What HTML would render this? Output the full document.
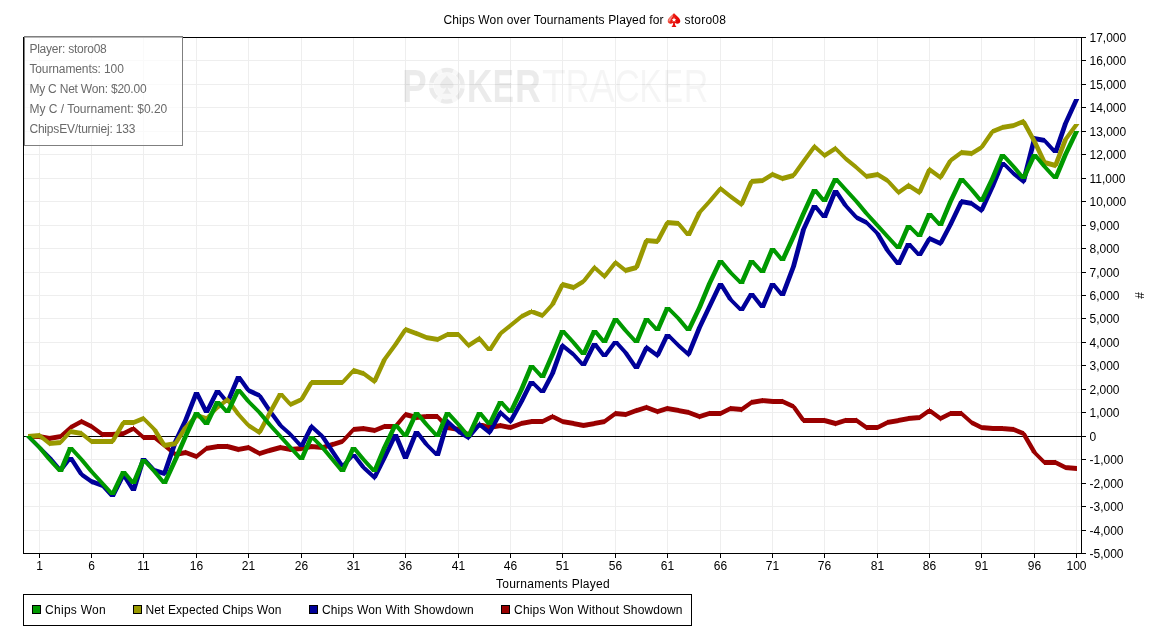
<!DOCTYPE html>
<html><head><meta charset="utf-8"><title>Chips Won over Tournaments Played</title>
<style>
html,body{margin:0;padding:0;background:#fff;}
body{width:1158px;height:636px;overflow:hidden;position:relative;font-family:"Liberation Sans",sans-serif;}
svg{position:absolute;left:0;top:0;display:block;}
svg text{font-family:"Liberation Sans",sans-serif;font-size:12px;fill:#000;}
.info{position:absolute;left:24px;top:36px;width:157px;height:108px;border:1px solid #7f7f7f;background:rgba(255,255,255,0.72);box-sizing:content-box;}
.info div{position:absolute;left:4.4px;white-space:nowrap;font-size:12px;line-height:14px;color:#6a6a6a;letter-spacing:0px;}
</style></head><body>
<svg width="1158" height="636" viewBox="0 0 1158 636">
<rect x="0" y="0" width="1158" height="636" fill="#ffffff"/>

<g shape-rendering="crispEdges" stroke="#eeeeee" stroke-width="1">
<line x1="39.5" y1="37.5" x2="39.5" y2="553.5"/>
<line x1="91.5" y1="37.5" x2="91.5" y2="553.5"/>
<line x1="143.5" y1="37.5" x2="143.5" y2="553.5"/>
<line x1="196.5" y1="37.5" x2="196.5" y2="553.5"/>
<line x1="248.5" y1="37.5" x2="248.5" y2="553.5"/>
<line x1="301.5" y1="37.5" x2="301.5" y2="553.5"/>
<line x1="353.5" y1="37.5" x2="353.5" y2="553.5"/>
<line x1="405.5" y1="37.5" x2="405.5" y2="553.5"/>
<line x1="458.5" y1="37.5" x2="458.5" y2="553.5"/>
<line x1="510.5" y1="37.5" x2="510.5" y2="553.5"/>
<line x1="562.5" y1="37.5" x2="562.5" y2="553.5"/>
<line x1="615.5" y1="37.5" x2="615.5" y2="553.5"/>
<line x1="667.5" y1="37.5" x2="667.5" y2="553.5"/>
<line x1="720.5" y1="37.5" x2="720.5" y2="553.5"/>
<line x1="772.5" y1="37.5" x2="772.5" y2="553.5"/>
<line x1="824.5" y1="37.5" x2="824.5" y2="553.5"/>
<line x1="877.5" y1="37.5" x2="877.5" y2="553.5"/>
<line x1="929.5" y1="37.5" x2="929.5" y2="553.5"/>
<line x1="981.5" y1="37.5" x2="981.5" y2="553.5"/>
<line x1="1034.5" y1="37.5" x2="1034.5" y2="553.5"/>
<line x1="1076.5" y1="37.5" x2="1076.5" y2="553.5"/>
<line x1="23.5" y1="553.5" x2="1081.5" y2="553.5"/>
<line x1="23.5" y1="530.5" x2="1081.5" y2="530.5"/>
<line x1="23.5" y1="506.5" x2="1081.5" y2="506.5"/>
<line x1="23.5" y1="483.5" x2="1081.5" y2="483.5"/>
<line x1="23.5" y1="459.5" x2="1081.5" y2="459.5"/>
<line x1="23.5" y1="412.5" x2="1081.5" y2="412.5"/>
<line x1="23.5" y1="389.5" x2="1081.5" y2="389.5"/>
<line x1="23.5" y1="365.5" x2="1081.5" y2="365.5"/>
<line x1="23.5" y1="342.5" x2="1081.5" y2="342.5"/>
<line x1="23.5" y1="318.5" x2="1081.5" y2="318.5"/>
<line x1="23.5" y1="295.5" x2="1081.5" y2="295.5"/>
<line x1="23.5" y1="272.5" x2="1081.5" y2="272.5"/>
<line x1="23.5" y1="248.5" x2="1081.5" y2="248.5"/>
<line x1="23.5" y1="225.5" x2="1081.5" y2="225.5"/>
<line x1="23.5" y1="201.5" x2="1081.5" y2="201.5"/>
<line x1="23.5" y1="178.5" x2="1081.5" y2="178.5"/>
<line x1="23.5" y1="154.5" x2="1081.5" y2="154.5"/>
<line x1="23.5" y1="131.5" x2="1081.5" y2="131.5"/>
<line x1="23.5" y1="107.5" x2="1081.5" y2="107.5"/>
<line x1="23.5" y1="84.5" x2="1081.5" y2="84.5"/>
<line x1="23.5" y1="60.5" x2="1081.5" y2="60.5"/>
<line x1="23.5" y1="37.5" x2="1081.5" y2="37.5"/>
</g>
<g id="wm">
<text transform="translate(401.88,102.2) scale(0.8016,1)" style="font-size:46.4px;font-weight:bold;fill:rgba(0,0,0,0.08);">P</text>
<text transform="translate(466.68,102.2) scale(0.7685,1)" style="font-size:46.4px;font-weight:bold;fill:rgba(0,0,0,0.08);">K</text>
<text transform="translate(492.73,102.2) scale(0.6866,1)" style="font-size:46.4px;font-weight:bold;fill:rgba(0,0,0,0.08);">E</text>
<text transform="translate(514.98,102.2) scale(0.7704,1)" style="font-size:46.4px;font-weight:bold;fill:rgba(0,0,0,0.08);">R</text>
<text transform="translate(542.03,102.2) scale(0.8392,1)" style="font-size:46.4px;font-weight:normal;fill:rgba(0,0,0,0.04);">T</text>
<text transform="translate(565.66,102.2) scale(0.7099,1)" style="font-size:46.4px;font-weight:normal;fill:rgba(0,0,0,0.04);">R</text>
<text transform="translate(589.31,102.2) scale(0.8261,1)" style="font-size:46.4px;font-weight:normal;fill:rgba(0,0,0,0.04);">A</text>
<text transform="translate(614.76,102.2) scale(0.7492,1)" style="font-size:46.4px;font-weight:normal;fill:rgba(0,0,0,0.04);">C</text>
<text transform="translate(639.30,102.2) scale(0.7271,1)" style="font-size:46.4px;font-weight:normal;fill:rgba(0,0,0,0.04);">K</text>
<text transform="translate(662.91,102.2) scale(0.6446,1)" style="font-size:46.4px;font-weight:normal;fill:rgba(0,0,0,0.04);">E</text>
<text transform="translate(683.87,102.2) scale(0.7353,1)" style="font-size:46.4px;font-weight:normal;fill:rgba(0,0,0,0.04);">R</text>
<circle cx="446.9" cy="85.8" r="15.75" fill="none" stroke="rgba(0,0,0,0.028)" stroke-width="4.5" stroke-dasharray="5.193 11.3" stroke-dashoffset="2.6"/>
<circle cx="446.9" cy="85.8" r="15.75" fill="none" stroke="rgba(0,0,0,0.08)" stroke-width="4.5" stroke-dasharray="11.3 5.193" stroke-dashoffset="-2.6"/>
<circle cx="446.9" cy="85.8" r="13.2" fill="rgba(0,0,0,0.03)"/>
<path transform="translate(446.9,75.3)" d="M0 0 C1.6 3.4 6.7 6 6.7 10 C6.7 13.2 3 14.2 0.9 12.2 C1.2 14.6 2.2 16.6 4.6 18.5 L-4.6 18.5 C-2.2 16.6 -1.2 14.6 -0.9 12.2 C-3 14.2 -6.7 13.2 -6.7 10 C-6.7 6 -1.6 3.4 0 0 Z" fill="rgba(0,0,0,0.052)"/>
</g>
<line x1="23.5" y1="436.5" x2="1081.5" y2="436.5" stroke="#000" stroke-width="1" shape-rendering="crispEdges"/>
<path d="M28.00 434.00L40.00 434.00L40.00 439.00L28.00 439.00ZM39.00 433.89L50.00 436.09L50.00 441.11L39.00 438.91ZM49.00 436.08L61.00 433.90L61.00 438.92L49.00 441.10ZM60.00 434.28L71.00 424.38L71.00 429.72L60.00 439.62ZM70.00 425.20L82.00 418.66L82.00 423.80L70.00 430.34ZM81.00 418.69L92.00 424.19L92.00 429.31L81.00 423.81ZM91.00 423.52L103.00 432.25L103.00 437.48L91.00 428.75ZM102.00 432.00L113.00 432.00L113.00 437.00L102.00 437.00ZM112.00 432.04L124.00 430.95L124.00 435.96L112.00 437.05ZM123.00 431.19L134.00 425.69L134.00 430.81L123.00 436.31ZM133.00 425.38L144.00 435.28L144.00 440.62L133.00 430.72ZM143.00 435.00L155.00 435.00L155.00 440.00L143.00 440.00ZM154.00 434.46L165.00 443.26L165.00 448.54L154.00 439.74ZM164.00 442.44L176.00 452.26L176.00 457.56L164.00 447.74ZM175.00 452.09L186.00 449.89L186.00 454.91L175.00 457.11ZM185.00 449.79L197.00 454.15L197.00 459.21L185.00 454.85ZM196.00 454.26L207.00 445.46L207.00 450.74L196.00 459.54ZM206.00 446.08L218.00 443.90L218.00 448.92L206.00 451.10ZM217.00 444.00L228.00 444.00L228.00 449.00L217.00 449.00ZM227.00 443.85L239.00 447.12L239.00 452.15L227.00 448.88ZM238.00 447.09L249.00 444.89L249.00 449.91L238.00 452.11ZM248.00 444.66L260.00 451.20L260.00 456.34L248.00 449.80ZM259.00 451.13L270.00 447.83L270.00 452.87L259.00 456.17ZM269.00 448.12L281.00 444.85L281.00 449.88L269.00 453.15ZM280.00 444.89L291.00 447.09L291.00 452.11L280.00 449.91ZM290.00 447.04L302.00 445.95L302.00 450.96L290.00 452.05ZM301.00 446.09L312.00 443.89L312.00 448.91L301.00 451.11ZM311.00 443.95L323.00 445.04L323.00 450.05L311.00 448.96ZM322.00 445.13L333.00 441.83L333.00 446.87L322.00 450.17ZM332.00 442.13L343.00 438.83L343.00 443.87L332.00 447.17ZM351.28 429.00L356.64 429.00L344.72 442.00L339.36 442.00ZM353.00 427.05L364.00 425.95L364.00 430.95L353.00 432.05ZM363.00 425.90L375.00 428.08L375.00 433.10L363.00 430.92ZM374.00 428.16L385.00 423.76L385.00 428.84L374.00 433.24ZM384.00 424.00L396.00 424.00L396.00 429.00L384.00 429.00ZM403.27 414.00L408.57 414.00L397.73 427.00L392.43 427.00ZM405.00 411.85L417.00 415.12L417.00 420.15L405.00 416.88ZM416.00 415.05L427.00 413.95L427.00 418.95L416.00 420.05ZM426.00 414.00L438.00 414.00L438.00 419.00L426.00 419.00ZM434.37 416.00L439.72 416.00L450.63 428.00L445.28 428.00ZM447.00 424.90L459.00 427.08L459.00 432.10L447.00 429.92ZM458.00 426.69L469.00 432.19L469.00 437.31L458.00 431.81ZM468.00 432.28L480.00 421.37L480.00 426.72L468.00 437.63ZM479.00 421.83L490.00 425.13L490.00 430.17L479.00 426.87ZM489.00 425.08L501.00 422.90L501.00 427.92L489.00 430.10ZM500.00 422.89L511.00 425.09L511.00 430.11L500.00 427.91ZM510.00 425.15L522.00 420.79L522.00 425.85L510.00 430.21ZM521.00 421.09L532.00 418.89L532.00 423.91L521.00 426.11ZM531.00 419.00L543.00 419.00L543.00 424.00L531.00 424.00ZM542.00 419.19L553.00 413.69L553.00 418.81L542.00 424.31ZM552.00 413.69L563.00 419.19L563.00 424.31L552.00 418.81ZM562.00 418.90L574.00 421.08L574.00 426.10L562.00 423.92ZM573.00 420.89L584.00 423.09L584.00 428.11L573.00 425.91ZM583.00 423.08L595.00 420.90L595.00 425.92L583.00 428.10ZM594.00 421.09L605.00 418.89L605.00 423.91L594.00 426.11ZM604.00 419.25L616.00 410.52L616.00 415.75L604.00 424.48ZM615.00 410.95L626.00 412.05L626.00 417.05L615.00 415.95ZM625.00 412.15L637.00 407.79L637.00 412.85L625.00 417.21ZM636.00 408.13L647.00 404.83L647.00 409.87L636.00 413.17ZM646.00 404.79L658.00 409.15L658.00 414.21L646.00 409.85ZM657.00 409.13L668.00 405.83L668.00 410.87L657.00 414.17ZM667.00 405.90L679.00 408.08L679.00 413.10L667.00 410.92ZM678.00 407.89L689.00 410.09L689.00 415.11L678.00 412.91ZM688.00 409.79L700.00 414.15L700.00 419.21L688.00 414.85ZM699.00 414.13L710.00 410.83L710.00 415.87L699.00 419.17ZM709.00 411.00L721.00 411.00L721.00 416.00L709.00 416.00ZM720.00 411.19L731.00 405.69L731.00 410.81L720.00 416.31ZM730.00 405.95L742.00 407.04L742.00 412.05L730.00 410.96ZM741.00 407.24L752.00 399.54L752.00 404.76L741.00 412.46ZM751.00 400.08L763.00 397.90L763.00 402.92L751.00 405.10ZM762.00 397.95L773.00 399.05L773.00 404.05L762.00 402.95ZM772.00 399.00L783.00 399.00L783.00 404.00L772.00 404.00ZM782.00 398.72L794.00 404.18L794.00 409.28L782.00 403.82ZM790.53 406.00L795.76 406.00L806.47 421.00L801.24 421.00ZM803.00 418.00L815.00 418.00L815.00 423.00L803.00 423.00ZM814.00 418.00L825.00 418.00L825.00 423.00L814.00 423.00ZM824.00 417.85L836.00 421.12L836.00 426.15L824.00 422.88ZM835.00 421.13L846.00 417.83L846.00 422.87L835.00 426.17ZM845.00 418.00L857.00 418.00L857.00 423.00L845.00 423.00ZM856.00 417.54L867.00 425.24L867.00 430.46L856.00 422.76ZM866.00 425.00L878.00 425.00L878.00 430.00L866.00 430.00ZM877.00 425.19L888.00 419.69L888.00 424.81L877.00 430.31ZM887.00 420.08L899.00 417.90L899.00 422.92L887.00 425.10ZM898.00 418.09L909.00 415.89L909.00 420.91L898.00 423.11ZM908.00 416.04L920.00 414.95L920.00 419.96L908.00 421.05ZM919.00 415.24L930.00 407.54L930.00 412.76L919.00 420.46ZM929.00 407.52L941.00 416.25L941.00 421.48L929.00 412.75ZM940.00 416.19L951.00 410.69L951.00 415.81L940.00 421.31ZM950.00 411.00L962.00 411.00L962.00 416.00L950.00 416.00ZM961.00 410.38L972.00 420.28L972.00 425.62L961.00 415.72ZM971.00 419.69L982.00 425.19L982.00 430.31L971.00 424.81ZM981.00 424.95L993.00 426.04L993.00 431.05L981.00 429.96ZM992.00 426.00L1003.00 426.00L1003.00 431.00L992.00 431.00ZM1002.00 425.95L1014.00 427.04L1014.00 432.05L1002.00 430.96ZM1013.00 426.76L1024.00 431.16L1024.00 436.24L1013.00 431.84ZM1020.63 433.00L1025.79 433.00L1037.37 453.00L1032.21 453.00ZM1031.29 452.00L1036.71 452.00L1047.71 463.00L1042.29 463.00ZM1044.00 460.00L1056.00 460.00L1056.00 465.00L1044.00 465.00ZM1055.00 459.69L1066.00 465.19L1066.00 470.31L1055.00 464.81ZM1065.00 464.95L1077.00 466.04L1077.00 471.05L1065.00 469.96ZM339.82 441.50L342.50 438.98L345.18 441.50L342.50 444.02ZM350.82 429.50L353.50 427.00L356.18 429.50L353.50 432.00ZM392.85 426.50L395.50 424.00L398.15 426.50L395.50 429.00ZM402.85 414.50L405.50 411.98L408.15 414.50L405.50 417.02ZM434.82 416.50L437.50 414.00L440.18 416.50L437.50 419.00ZM444.82 427.50L447.50 424.99L450.18 427.50L447.50 430.01ZM790.89 406.50L793.50 403.95L796.11 406.50L793.50 409.05ZM800.89 420.50L803.50 418.00L806.11 420.50L803.50 423.00ZM1020.92 433.50L1023.50 430.96L1026.08 433.50L1023.50 436.04ZM1041.79 462.50L1044.50 460.00L1047.21 462.50L1044.50 465.00Z" fill="#990000" fill-rule="nonzero" stroke="none"/>
<path d="M25.29 436.00L30.71 436.00L42.71 448.00L37.29 448.00ZM36.29 447.00L41.71 447.00L52.71 458.00L47.29 458.00ZM46.42 457.00L51.73 457.00L63.58 471.00L58.27 471.00ZM68.25 457.00L73.52 457.00L62.75 471.00L57.48 471.00ZM67.58 457.00L72.77 457.00L84.42 475.00L79.23 475.00ZM81.00 471.54L92.00 479.24L92.00 484.46L81.00 476.76ZM91.00 478.79L103.00 483.15L103.00 488.21L91.00 483.85ZM99.37 485.00L104.72 485.00L115.63 497.00L110.28 497.00ZM121.19 474.00L126.31 474.00L114.81 497.00L109.69 497.00ZM120.60 474.00L125.78 474.00L136.40 491.00L131.22 491.00ZM141.13 458.00L146.18 458.00L135.87 491.00L130.82 491.00ZM140.36 458.00L145.72 458.00L157.64 471.00L152.28 471.00ZM154.00 467.83L165.00 471.13L165.00 476.17L154.00 472.87ZM173.14 441.00L178.20 441.00L166.86 474.00L161.80 474.00ZM183.18 420.00L188.29 420.00L177.82 442.00L172.71 442.00ZM194.16 392.00L199.23 392.00L187.84 421.00L182.77 421.00ZM193.69 392.00L198.81 392.00L209.31 413.00L204.19 413.00ZM215.19 390.00L220.31 390.00L208.81 413.00L203.69 413.00ZM214.43 390.00L219.73 390.00L230.57 403.00L225.27 403.00ZM236.17 376.00L241.25 376.00L229.83 403.00L224.75 403.00ZM235.53 376.00L240.76 376.00L251.47 391.00L246.24 391.00ZM248.00 387.72L260.00 393.18L260.00 398.28L248.00 392.82ZM256.57 395.00L261.77 395.00L272.43 411.00L267.23 411.00ZM266.51 410.00L271.75 410.00L283.49 426.00L278.25 426.00ZM280.00 422.38L291.00 432.28L291.00 437.62L280.00 427.72ZM287.36 434.00L292.72 434.00L304.64 447.00L299.28 447.00ZM309.19 426.00L314.31 426.00L303.81 447.00L298.69 447.00ZM311.00 423.37L323.00 434.28L323.00 439.63L311.00 428.72ZM319.57 436.00L324.77 436.00L335.43 452.00L330.23 452.00ZM329.57 451.00L334.77 451.00L345.43 467.00L340.23 467.00ZM351.28 454.00L356.64 454.00L344.72 467.00L339.36 467.00ZM350.48 454.00L355.75 454.00L366.52 468.00L361.25 468.00ZM363.00 464.37L375.00 475.28L375.00 480.63L363.00 469.72ZM382.19 457.00L387.31 457.00L376.81 478.00L371.69 478.00ZM393.18 434.00L398.29 434.00L386.82 458.00L381.71 458.00ZM392.75 434.00L397.83 434.00L408.25 459.00L403.17 459.00ZM414.16 431.00L419.24 431.00L407.84 459.00L402.76 459.00ZM413.48 431.00L418.75 431.00L429.52 445.00L424.25 445.00ZM423.29 444.00L428.71 444.00L440.71 456.00L435.29 456.00ZM445.13 421.00L450.17 421.00L439.87 456.00L434.83 456.00ZM447.00 418.37L459.00 429.28L459.00 434.63L447.00 423.72ZM458.00 428.62L469.00 435.22L469.00 440.38L458.00 433.78ZM477.27 424.00L482.58 424.00L470.73 438.00L465.42 438.00ZM479.00 421.46L490.00 430.26L490.00 435.54L479.00 426.74ZM498.20 412.00L503.35 412.00L491.80 433.00L486.65 433.00ZM500.00 409.38L511.00 419.28L511.00 424.62L500.00 414.72ZM519.20 401.00L524.35 401.00L512.80 422.00L507.65 422.00ZM529.19 381.00L534.31 381.00L523.81 402.00L518.69 402.00ZM528.29 381.00L533.71 381.00L545.71 393.00L540.29 393.00ZM550.20 373.00L555.33 373.00L544.80 393.00L539.67 393.00ZM560.15 345.00L565.21 345.00L554.85 374.00L549.79 374.00ZM562.00 342.44L574.00 352.26L574.00 357.56L562.00 347.74ZM570.37 354.00L575.72 354.00L586.63 366.00L581.28 366.00ZM592.19 343.00L597.31 343.00L585.81 366.00L580.69 366.00ZM591.48 343.00L596.75 343.00L607.52 357.00L602.25 357.00ZM613.25 341.00L618.49 341.00L606.75 357.00L601.51 357.00ZM612.37 341.00L617.72 341.00L628.63 353.00L623.28 353.00ZM622.55 352.00L627.76 352.00L639.45 369.00L634.24 369.00ZM644.18 347.00L649.29 347.00L638.82 369.00L633.71 369.00ZM646.00 344.52L658.00 353.25L658.00 358.48L646.00 349.75ZM665.18 334.00L670.29 334.00L659.82 356.00L654.71 356.00ZM664.29 334.00L669.71 334.00L681.71 346.00L676.29 346.00ZM678.00 342.38L689.00 352.28L689.00 357.62L678.00 347.72ZM697.16 327.00L702.24 327.00L690.84 355.00L685.76 355.00ZM707.18 306.00L712.29 306.00L701.82 328.00L696.71 328.00ZM718.18 283.00L723.29 283.00L711.82 307.00L706.71 307.00ZM717.60 283.00L722.78 283.00L733.40 300.00L728.22 300.00ZM727.29 299.00L732.71 299.00L744.71 311.00L739.29 311.00ZM749.21 293.00L754.37 293.00L743.79 311.00L738.63 311.00ZM748.47 293.00L753.74 293.00L765.53 308.00L760.26 308.00ZM770.17 283.00L775.25 283.00L764.83 308.00L759.75 308.00ZM769.43 283.00L774.73 283.00L785.57 296.00L780.27 296.00ZM791.15 266.00L796.22 266.00L784.85 296.00L779.78 296.00ZM801.12 229.00L806.15 229.00L795.88 267.00L790.85 267.00ZM812.18 205.00L817.28 205.00L805.82 230.00L800.72 230.00ZM811.43 205.00L816.73 205.00L827.57 218.00L822.27 218.00ZM833.16 190.00L838.24 190.00L826.84 218.00L821.76 218.00ZM832.57 190.00L837.77 190.00L848.43 206.00L843.23 206.00ZM842.36 205.00L847.72 205.00L859.64 218.00L854.28 218.00ZM856.00 214.69L867.00 220.19L867.00 225.31L856.00 219.81ZM863.29 222.00L868.71 222.00L880.71 234.00L875.29 234.00ZM874.63 233.00L879.79 233.00L890.37 251.00L885.21 251.00ZM884.47 250.00L889.74 250.00L901.53 265.00L896.26 265.00ZM906.18 243.00L911.29 243.00L900.82 265.00L895.71 265.00ZM905.36 243.00L910.72 243.00L922.64 256.00L917.28 256.00ZM927.21 238.00L932.37 238.00L921.79 256.00L916.63 256.00ZM929.00 235.72L941.00 241.18L941.00 246.28L929.00 240.82ZM948.20 224.00L953.33 224.00L942.80 244.00L937.67 244.00ZM959.18 201.00L964.29 201.00L952.82 225.00L947.71 225.00ZM961.00 198.89L972.00 201.09L972.00 206.11L961.00 203.91ZM971.00 200.54L982.00 208.24L982.00 213.46L971.00 205.76ZM990.18 186.00L995.28 186.00L983.82 211.00L978.72 211.00ZM1000.17 162.00L1005.25 162.00L994.83 187.00L989.75 187.00ZM999.29 162.00L1004.71 162.00L1016.71 174.00L1011.29 174.00ZM1013.00 170.46L1024.00 179.26L1024.00 184.54L1013.00 175.74ZM1032.11 138.00L1037.14 138.00L1025.89 182.00L1020.86 182.00ZM1034.00 135.89L1045.00 138.09L1045.00 143.11L1034.00 140.91ZM1041.36 140.00L1046.72 140.00L1058.64 153.00L1053.28 153.00ZM1063.14 123.00L1068.20 123.00L1057.86 153.00L1052.80 153.00ZM1074.18 99.00L1079.28 99.00L1067.82 124.00L1062.72 124.00ZM78.90 474.50L81.50 471.89L84.10 474.50L81.50 477.11ZM99.82 485.50L102.50 482.97L105.18 485.50L102.50 488.03ZM151.82 470.50L154.50 467.98L157.18 470.50L154.50 473.02ZM161.97 473.50L164.50 470.98L167.03 473.50L164.50 476.02ZM245.89 390.50L248.50 387.95L251.11 390.50L248.50 393.05ZM256.90 395.50L259.50 392.95L262.10 395.50L259.50 398.05ZM277.88 425.50L280.50 422.83L283.12 425.50L280.50 428.17ZM287.82 434.50L290.50 431.83L293.18 434.50L290.50 437.17ZM308.94 426.50L311.50 423.82L314.06 426.50L311.50 429.18ZM319.90 436.50L322.50 433.82L325.10 436.50L322.50 439.18ZM360.87 467.50L363.50 464.82L366.13 467.50L363.50 470.18ZM371.94 477.50L374.50 474.82L377.06 477.50L374.50 480.18ZM444.98 421.50L447.50 418.82L450.02 421.50L447.50 424.18ZM465.85 437.50L468.50 434.92L471.15 437.50L468.50 440.08ZM476.85 424.50L479.50 421.86L482.15 424.50L479.50 427.14ZM486.93 432.50L489.50 429.86L492.07 432.50L489.50 435.14ZM497.93 412.50L500.50 409.83L503.07 412.50L500.50 415.17ZM507.93 421.50L510.50 418.83L513.07 421.50L510.50 424.17ZM559.97 345.50L562.50 342.85L565.03 345.50L562.50 348.15ZM570.82 354.50L573.50 351.85L576.18 354.50L573.50 357.15ZM643.95 347.50L646.50 344.88L649.05 347.50L646.50 350.12ZM654.95 355.50L657.50 352.88L660.05 355.50L657.50 358.12ZM675.79 345.50L678.50 342.83L681.21 345.50L678.50 348.17ZM685.96 354.50L688.50 351.83L691.04 354.50L688.50 357.17ZM853.82 217.50L856.50 214.94L859.18 217.50L856.50 220.06ZM863.79 222.50L866.50 219.94L869.21 222.50L866.50 225.06ZM926.92 238.50L929.50 235.95L932.08 238.50L929.50 241.05ZM937.93 243.50L940.50 240.95L943.07 243.50L940.50 246.05ZM958.95 201.50L961.50 198.99L964.05 201.50L961.50 204.01ZM978.95 210.50L981.50 207.89L984.05 210.50L981.50 213.11ZM1010.79 173.50L1013.50 170.86L1016.21 173.50L1013.50 176.14ZM1020.98 181.50L1023.50 178.86L1026.02 181.50L1023.50 184.14ZM1031.98 138.50L1034.50 135.99L1037.02 138.50L1034.50 141.01ZM1041.82 140.50L1044.50 137.99L1047.18 140.50L1044.50 143.01Z" fill="#000099" fill-rule="nonzero" stroke="none"/>
<path d="M28.00 434.04L40.00 432.95L40.00 437.96L28.00 439.05ZM39.00 432.46L50.00 441.26L50.00 446.54L39.00 437.74ZM49.00 441.04L61.00 439.95L61.00 444.96L49.00 446.05ZM68.28 431.00L73.63 431.00L62.72 443.00L57.37 443.00ZM70.00 428.90L82.00 431.08L82.00 436.10L70.00 433.92ZM81.00 430.46L92.00 439.26L92.00 444.54L81.00 435.74ZM91.00 439.00L103.00 439.00L103.00 444.00L91.00 444.00ZM102.00 439.00L113.00 439.00L113.00 444.00L102.00 444.00ZM121.21 422.00L126.37 422.00L114.79 442.00L109.63 442.00ZM123.00 420.00L134.00 420.00L134.00 425.00L123.00 425.00ZM133.00 420.16L144.00 415.76L144.00 420.84L133.00 425.24ZM140.29 418.00L145.71 418.00L157.71 430.00L152.29 430.00ZM151.60 429.00L156.78 429.00L167.40 446.00L162.22 446.00ZM164.00 443.08L176.00 440.90L176.00 445.92L164.00 448.10ZM183.22 427.00L188.40 427.00L177.78 444.00L172.60 444.00ZM194.28 415.00L199.64 415.00L187.72 428.00L182.36 428.00ZM196.00 412.83L207.00 416.13L207.00 421.17L196.00 417.87ZM215.29 407.00L220.71 407.00L208.71 419.00L203.29 419.00ZM217.00 405.26L228.00 396.46L228.00 401.74L217.00 410.54ZM224.51 399.00L229.75 399.00L241.49 415.00L236.25 415.00ZM235.37 414.00L240.72 414.00L251.63 426.00L246.28 426.00ZM248.00 422.59L260.00 430.23L260.00 435.41L248.00 427.77ZM267.20 413.00L272.33 413.00L261.80 433.00L256.67 433.00ZM278.20 393.00L283.35 393.00L271.80 414.00L266.65 414.00ZM277.37 393.00L282.72 393.00L293.63 405.00L288.28 405.00ZM290.00 402.18L302.00 396.72L302.00 401.82L290.00 407.28ZM309.21 382.00L314.37 382.00L303.79 400.00L298.63 400.00ZM311.00 380.00L323.00 380.00L323.00 385.00L311.00 385.00ZM322.00 380.00L333.00 380.00L333.00 385.00L322.00 385.00ZM332.00 380.00L343.00 380.00L343.00 385.00L332.00 385.00ZM351.28 370.00L356.64 370.00L344.72 383.00L339.36 383.00ZM353.00 367.83L364.00 371.13L364.00 376.17L353.00 372.87ZM363.00 370.52L375.00 379.25L375.00 384.48L363.00 375.75ZM382.18 359.00L387.28 359.00L376.82 382.00L371.72 382.00ZM393.25 344.00L398.49 344.00L386.75 360.00L381.51 360.00ZM403.23 329.00L408.43 329.00L397.77 345.00L392.57 345.00ZM405.00 326.79L417.00 331.15L417.00 336.21L405.00 331.85ZM416.00 330.76L427.00 335.16L427.00 340.24L416.00 335.84ZM426.00 334.90L438.00 337.08L438.00 342.10L426.00 339.92ZM437.00 337.19L448.00 331.69L448.00 336.81L437.00 342.31ZM447.00 332.00L459.00 332.00L459.00 337.00L447.00 337.00ZM455.37 334.00L460.72 334.00L471.63 346.00L466.28 346.00ZM468.00 343.23L480.00 335.59L480.00 340.77L468.00 348.41ZM476.43 338.00L481.73 338.00L492.57 351.00L487.27 351.00ZM498.23 333.00L503.42 333.00L491.77 351.00L486.58 351.00ZM500.00 331.26L511.00 322.46L511.00 327.74L500.00 336.54ZM510.00 323.26L522.00 313.44L522.00 318.74L510.00 328.56ZM521.00 314.19L532.00 308.69L532.00 313.81L521.00 319.31ZM531.00 308.79L543.00 313.15L543.00 318.21L531.00 313.85ZM550.28 304.00L555.63 304.00L544.72 316.00L539.37 316.00ZM560.19 284.00L565.31 284.00L554.81 305.00L549.69 305.00ZM562.00 281.85L574.00 285.12L574.00 290.15L562.00 286.88ZM573.00 285.22L584.00 278.62L584.00 283.78L573.00 290.38ZM592.26 267.00L597.53 267.00L585.74 282.00L580.47 282.00ZM594.00 264.38L605.00 274.28L605.00 279.62L594.00 269.72ZM613.26 262.00L618.53 262.00L606.74 277.00L601.47 277.00ZM615.00 259.46L626.00 268.26L626.00 273.54L615.00 264.74ZM625.00 268.12L637.00 264.85L637.00 269.88L625.00 273.15ZM644.15 240.00L649.22 240.00L638.85 268.00L633.78 268.00ZM646.00 237.95L658.00 239.04L658.00 244.05L646.00 242.96ZM665.20 222.00L670.33 222.00L659.80 242.00L654.67 242.00ZM667.00 219.95L679.00 221.04L679.00 226.05L667.00 224.96ZM675.43 223.00L680.73 223.00L691.57 236.00L686.27 236.00ZM697.18 212.00L702.29 212.00L690.82 236.00L685.71 236.00ZM707.28 201.00L712.63 201.00L701.72 213.00L696.37 213.00ZM718.27 188.00L723.58 188.00L711.73 202.00L706.42 202.00ZM720.00 185.46L731.00 194.26L731.00 199.54L720.00 190.74ZM730.00 193.52L742.00 202.25L742.00 207.48L730.00 198.75ZM749.17 181.00L754.26 181.00L743.83 205.00L738.74 205.00ZM751.00 179.04L763.00 177.95L763.00 182.96L751.00 184.05ZM762.00 178.22L773.00 171.62L773.00 176.78L762.00 183.38ZM772.00 171.76L783.00 176.16L783.00 181.24L772.00 176.84ZM782.00 176.12L794.00 172.85L794.00 177.88L782.00 181.15ZM801.24 161.00L806.47 161.00L795.76 176.00L790.53 176.00ZM812.25 146.00L817.49 146.00L805.75 162.00L800.51 162.00ZM814.00 143.38L825.00 153.28L825.00 158.62L814.00 148.72ZM824.00 153.23L836.00 145.59L836.00 150.77L824.00 158.41ZM832.29 148.00L837.71 148.00L848.71 159.00L843.29 159.00ZM845.00 155.44L857.00 165.26L857.00 170.56L845.00 160.74ZM856.00 164.38L867.00 174.28L867.00 179.62L856.00 169.72ZM866.00 174.08L878.00 171.90L878.00 176.92L866.00 179.10ZM877.00 171.62L888.00 178.22L888.00 183.38L877.00 176.78ZM884.36 180.00L889.72 180.00L901.64 193.00L896.28 193.00ZM898.00 190.24L909.00 182.54L909.00 187.76L898.00 195.46ZM908.00 182.59L920.00 190.23L920.00 195.41L908.00 187.77ZM927.17 169.00L932.26 169.00L921.83 193.00L916.74 193.00ZM929.00 166.52L941.00 175.25L941.00 180.48L929.00 171.75ZM948.21 160.00L953.37 160.00L942.79 178.00L937.63 178.00ZM950.00 158.25L962.00 149.52L962.00 154.75L950.00 163.48ZM961.00 149.95L972.00 151.05L972.00 156.05L961.00 154.95ZM971.00 151.22L982.00 144.62L982.00 149.78L971.00 156.38ZM990.24 131.00L995.45 131.00L983.76 148.00L978.55 148.00ZM992.00 129.16L1003.00 124.76L1003.00 129.84L992.00 134.24ZM1002.00 125.08L1014.00 122.90L1014.00 127.92L1002.00 130.10ZM1013.00 123.16L1024.00 118.76L1024.00 123.84L1013.00 128.24ZM1020.65 121.00L1025.80 121.00L1037.35 142.00L1032.20 142.00ZM1031.71 141.00L1036.82 141.00L1047.29 163.00L1042.18 163.00ZM1044.00 159.85L1056.00 163.12L1056.00 168.15L1044.00 164.88ZM1063.16 139.00L1068.23 139.00L1057.84 166.00L1052.77 166.00ZM1074.25 124.00L1079.49 124.00L1067.75 140.00L1062.51 140.00ZM57.82 442.50L60.50 440.00L63.18 442.50L60.50 445.00ZM67.82 431.50L70.50 428.99L73.18 431.50L70.50 434.01ZM109.92 441.50L112.50 439.00L115.08 441.50L112.50 444.00ZM120.92 422.50L123.50 420.00L126.08 422.50L123.50 425.00ZM140.79 418.50L143.50 415.96L146.21 418.50L143.50 421.04ZM161.91 445.50L164.50 442.99L167.09 445.50L164.50 448.01ZM172.91 443.50L175.50 440.99L178.09 443.50L175.50 446.01ZM193.82 415.50L196.50 412.98L199.18 415.50L196.50 418.02ZM203.79 418.50L206.50 415.98L209.21 418.50L206.50 421.02ZM214.79 407.50L217.50 404.86L220.21 407.50L217.50 410.14ZM224.88 399.50L227.50 396.86L230.12 399.50L227.50 402.14ZM245.82 425.50L248.50 422.91L251.18 425.50L248.50 428.09ZM256.93 432.50L259.50 429.91L262.07 432.50L259.50 435.09ZM287.82 404.50L290.50 401.95L293.18 404.50L290.50 407.05ZM298.92 399.50L301.50 396.95L304.08 399.50L301.50 402.05ZM308.92 382.50L311.50 380.00L314.08 382.50L311.50 385.00ZM339.82 382.50L342.50 380.00L345.18 382.50L342.50 385.00ZM350.82 370.50L353.50 367.98L356.18 370.50L353.50 373.02ZM371.95 381.50L374.50 378.88L377.05 381.50L374.50 384.12ZM402.90 329.50L405.50 326.97L408.10 329.50L405.50 332.03ZM455.82 334.50L458.50 332.00L461.18 334.50L458.50 337.00ZM465.82 345.50L468.50 342.91L471.18 345.50L468.50 348.09ZM476.85 338.50L479.50 335.91L482.15 338.50L479.50 341.09ZM497.90 333.50L500.50 330.86L503.10 333.50L500.50 336.14ZM539.82 315.50L542.50 312.97L545.18 315.50L542.50 318.03ZM559.94 284.50L562.50 281.98L565.06 284.50L562.50 287.02ZM580.86 281.50L583.50 278.92L586.14 281.50L583.50 284.08ZM591.86 267.50L594.50 264.83L597.14 267.50L594.50 270.17ZM601.86 276.50L604.50 273.83L607.14 276.50L604.50 279.17ZM612.86 262.50L615.50 259.86L618.14 262.50L615.50 265.14ZM633.97 267.50L636.50 264.98L639.03 267.50L636.50 270.02ZM643.97 240.50L646.50 238.00L649.03 240.50L646.50 243.00ZM654.93 241.50L657.50 239.00L660.07 241.50L657.50 244.00ZM664.93 222.50L667.50 220.00L670.07 222.50L667.50 225.00ZM675.85 223.50L678.50 221.00L681.15 223.50L678.50 226.00ZM717.85 188.50L720.50 185.86L723.15 188.50L720.50 191.14ZM738.95 204.50L741.50 201.88L744.05 204.50L741.50 207.12ZM748.95 181.50L751.50 179.00L754.05 181.50L751.50 184.00ZM790.89 175.50L793.50 172.98L796.11 175.50L793.50 178.02ZM811.88 146.50L814.50 143.83L817.12 146.50L814.50 149.17ZM832.79 148.50L835.50 145.91L838.21 148.50L835.50 151.09ZM842.79 158.50L845.50 155.85L848.21 158.50L845.50 161.15ZM884.82 180.50L887.50 177.92L890.18 180.50L887.50 183.08ZM895.82 192.50L898.50 189.89L901.18 192.50L898.50 195.11ZM916.95 192.50L919.50 189.91L922.05 192.50L919.50 195.09ZM926.95 169.50L929.50 166.88L932.05 169.50L929.50 172.12ZM937.92 177.50L940.50 174.88L943.08 177.50L940.50 180.12ZM947.92 160.50L950.50 157.88L953.08 160.50L950.50 163.12ZM978.89 147.50L981.50 144.92L984.11 147.50L981.50 150.08ZM989.89 131.50L992.50 128.96L995.11 131.50L992.50 134.04ZM1020.93 121.50L1023.50 118.96L1026.07 121.50L1023.50 124.04ZM1041.95 162.50L1044.50 159.98L1047.05 162.50L1044.50 165.02ZM1052.96 165.50L1055.50 162.98L1058.04 165.50L1055.50 168.02Z" fill="#999900" fill-rule="nonzero" stroke="none"/>
<path d="M25.29 436.00L30.71 436.00L42.71 448.00L37.29 448.00ZM36.43 447.00L41.73 447.00L52.57 460.00L47.27 460.00ZM46.36 459.00L51.72 459.00L63.64 472.00L58.28 472.00ZM68.17 447.00L73.25 447.00L62.83 472.00L57.75 472.00ZM67.36 447.00L72.72 447.00L84.64 460.00L79.28 460.00ZM78.43 459.00L83.73 459.00L94.57 472.00L89.27 472.00ZM88.36 471.00L93.72 471.00L105.64 484.00L100.28 484.00ZM99.37 483.00L104.72 483.00L115.63 495.00L110.28 495.00ZM121.18 471.00L126.29 471.00L114.82 495.00L109.71 495.00ZM120.43 471.00L125.73 471.00L136.57 484.00L131.27 484.00ZM141.17 459.00L146.25 459.00L135.83 484.00L130.75 484.00ZM140.36 459.00L145.72 459.00L157.64 472.00L152.28 472.00ZM151.43 471.00L156.73 471.00L167.57 484.00L162.27 484.00ZM173.18 459.00L178.28 459.00L166.82 484.00L161.72 484.00ZM183.17 436.00L188.26 436.00L177.83 460.00L172.74 460.00ZM194.18 412.00L199.28 412.00L187.82 437.00L182.72 437.00ZM193.43 412.00L198.73 412.00L209.57 425.00L204.27 425.00ZM215.18 401.00L220.29 401.00L208.82 425.00L203.71 425.00ZM214.37 401.00L219.72 401.00L230.63 413.00L225.28 413.00ZM236.18 389.00L241.29 389.00L229.82 413.00L224.71 413.00ZM235.43 389.00L240.73 389.00L251.57 402.00L246.27 402.00ZM245.29 401.00L250.71 401.00L262.71 413.00L257.29 413.00ZM256.43 412.00L261.73 412.00L272.57 425.00L267.27 425.00ZM266.36 424.00L271.72 424.00L283.64 437.00L278.28 437.00ZM277.37 436.00L282.72 436.00L293.63 448.00L288.28 448.00ZM287.36 447.00L292.72 447.00L304.64 460.00L299.28 460.00ZM309.17 436.00L314.26 436.00L303.83 460.00L298.74 460.00ZM308.29 436.00L313.71 436.00L325.71 448.00L320.29 448.00ZM319.43 447.00L324.73 447.00L335.57 460.00L330.27 460.00ZM329.43 459.00L334.73 459.00L345.57 472.00L340.27 472.00ZM351.18 447.00L356.28 447.00L344.82 472.00L339.72 472.00ZM350.43 447.00L355.73 447.00L366.57 460.00L361.27 460.00ZM360.36 459.00L365.72 459.00L377.64 472.00L372.28 472.00ZM382.17 447.00L387.25 447.00L376.83 472.00L371.75 472.00ZM393.18 424.00L398.29 424.00L386.82 448.00L381.71 448.00ZM392.43 424.00L397.73 424.00L408.57 437.00L403.27 437.00ZM414.18 412.00L419.28 412.00L407.82 437.00L402.72 437.00ZM413.43 412.00L418.73 412.00L429.57 425.00L424.27 425.00ZM423.36 424.00L428.72 424.00L440.64 437.00L435.28 437.00ZM445.17 412.00L450.25 412.00L439.83 437.00L434.75 437.00ZM444.36 412.00L449.72 412.00L461.64 425.00L456.28 425.00ZM455.43 424.00L460.73 424.00L471.57 437.00L466.27 437.00ZM477.18 412.00L482.28 412.00L470.82 437.00L465.72 437.00ZM476.43 412.00L481.73 412.00L492.57 425.00L487.27 425.00ZM498.18 401.00L503.29 401.00L491.82 425.00L486.71 425.00ZM497.37 401.00L502.72 401.00L513.63 413.00L508.28 413.00ZM519.18 389.00L524.29 389.00L512.82 413.00L507.71 413.00ZM529.17 365.00L534.25 365.00L523.83 390.00L518.75 390.00ZM528.36 365.00L533.72 365.00L545.64 378.00L540.28 378.00ZM550.17 354.00L555.26 354.00L544.83 378.00L539.74 378.00ZM560.17 330.00L565.25 330.00L554.83 355.00L549.75 355.00ZM559.36 330.00L564.72 330.00L576.64 343.00L571.28 343.00ZM570.43 342.00L575.73 342.00L586.57 355.00L581.27 355.00ZM592.18 330.00L597.28 330.00L585.82 355.00L580.72 355.00ZM591.43 330.00L596.73 330.00L607.57 343.00L602.27 343.00ZM613.18 318.00L618.28 318.00L606.82 343.00L601.72 343.00ZM612.43 318.00L617.73 318.00L628.57 331.00L623.27 331.00ZM622.36 330.00L627.72 330.00L639.64 343.00L634.28 343.00ZM644.17 318.00L649.25 318.00L638.83 343.00L633.75 343.00ZM643.36 318.00L648.72 318.00L660.64 331.00L655.28 331.00ZM665.17 307.00L670.26 307.00L659.83 331.00L654.74 331.00ZM664.29 307.00L669.71 307.00L681.71 319.00L676.29 319.00ZM675.43 318.00L680.73 318.00L691.57 331.00L686.27 331.00ZM697.18 307.00L702.29 307.00L690.82 331.00L685.71 331.00ZM707.17 283.00L712.25 283.00L701.83 308.00L696.75 308.00ZM718.18 260.00L723.29 260.00L711.82 284.00L706.71 284.00ZM717.43 260.00L722.73 260.00L733.57 273.00L728.27 273.00ZM727.29 272.00L732.71 272.00L744.71 284.00L739.29 284.00ZM749.17 260.00L754.26 260.00L743.83 284.00L738.74 284.00ZM748.36 260.00L753.72 260.00L765.64 273.00L760.28 273.00ZM770.17 248.00L775.25 248.00L764.83 273.00L759.75 273.00ZM769.43 248.00L774.73 248.00L785.57 261.00L780.27 261.00ZM791.18 236.00L796.28 236.00L784.82 261.00L779.72 261.00ZM801.17 213.00L806.26 213.00L795.83 237.00L790.74 237.00ZM812.18 189.00L817.28 189.00L805.82 214.00L800.72 214.00ZM811.43 189.00L816.73 189.00L827.57 202.00L822.27 202.00ZM833.18 178.00L838.29 178.00L826.82 202.00L821.71 202.00ZM832.37 178.00L837.72 178.00L848.63 190.00L843.28 190.00ZM842.36 189.00L847.72 189.00L859.64 202.00L854.28 202.00ZM853.43 201.00L858.73 201.00L869.57 214.00L864.27 214.00ZM863.36 213.00L868.72 213.00L880.64 226.00L875.28 226.00ZM874.37 225.00L879.72 225.00L890.63 237.00L885.28 237.00ZM884.36 236.00L889.72 236.00L901.64 249.00L896.28 249.00ZM906.17 225.00L911.26 225.00L900.83 249.00L895.74 249.00ZM905.29 225.00L910.71 225.00L922.71 237.00L917.29 237.00ZM927.17 213.00L932.26 213.00L921.83 237.00L916.74 237.00ZM926.36 213.00L931.72 213.00L943.64 226.00L938.28 226.00ZM948.17 201.00L953.25 201.00L942.83 226.00L937.75 226.00ZM959.18 178.00L964.29 178.00L952.82 202.00L947.71 202.00ZM958.37 178.00L963.72 178.00L974.63 190.00L969.28 190.00ZM968.43 189.00L973.73 189.00L984.57 202.00L979.27 202.00ZM990.18 178.00L995.29 178.00L983.82 202.00L978.71 202.00ZM1000.17 154.00L1005.25 154.00L994.83 179.00L989.75 179.00ZM999.36 154.00L1004.72 154.00L1016.64 167.00L1011.28 167.00ZM1010.43 166.00L1015.73 166.00L1026.57 179.00L1021.27 179.00ZM1032.18 154.00L1037.28 154.00L1025.82 179.00L1020.72 179.00ZM1031.43 154.00L1036.73 154.00L1047.57 167.00L1042.27 167.00ZM1041.36 166.00L1046.72 166.00L1058.64 179.00L1053.28 179.00ZM1063.17 154.00L1068.25 154.00L1057.83 179.00L1052.75 179.00ZM1074.18 131.00L1079.29 131.00L1067.82 155.00L1062.71 155.00Z" fill="#009900" fill-rule="nonzero" stroke="none"/>
<g shape-rendering="crispEdges" stroke="#000" stroke-width="1" fill="none">
<rect x="23.5" y="37.5" width="1058.0" height="516.0"/>
<line x1="39.5" y1="553.5" x2="39.5" y2="558.0"/>
<line x1="91.5" y1="553.5" x2="91.5" y2="558.0"/>
<line x1="143.5" y1="553.5" x2="143.5" y2="558.0"/>
<line x1="196.5" y1="553.5" x2="196.5" y2="558.0"/>
<line x1="248.5" y1="553.5" x2="248.5" y2="558.0"/>
<line x1="301.5" y1="553.5" x2="301.5" y2="558.0"/>
<line x1="353.5" y1="553.5" x2="353.5" y2="558.0"/>
<line x1="405.5" y1="553.5" x2="405.5" y2="558.0"/>
<line x1="458.5" y1="553.5" x2="458.5" y2="558.0"/>
<line x1="510.5" y1="553.5" x2="510.5" y2="558.0"/>
<line x1="562.5" y1="553.5" x2="562.5" y2="558.0"/>
<line x1="615.5" y1="553.5" x2="615.5" y2="558.0"/>
<line x1="667.5" y1="553.5" x2="667.5" y2="558.0"/>
<line x1="720.5" y1="553.5" x2="720.5" y2="558.0"/>
<line x1="772.5" y1="553.5" x2="772.5" y2="558.0"/>
<line x1="824.5" y1="553.5" x2="824.5" y2="558.0"/>
<line x1="877.5" y1="553.5" x2="877.5" y2="558.0"/>
<line x1="929.5" y1="553.5" x2="929.5" y2="558.0"/>
<line x1="981.5" y1="553.5" x2="981.5" y2="558.0"/>
<line x1="1034.5" y1="553.5" x2="1034.5" y2="558.0"/>
<line x1="1076.5" y1="553.5" x2="1076.5" y2="558.0"/>
<line x1="1081.5" y1="553.5" x2="1086.0" y2="553.5"/>
<line x1="1081.5" y1="530.5" x2="1086.0" y2="530.5"/>
<line x1="1081.5" y1="506.5" x2="1086.0" y2="506.5"/>
<line x1="1081.5" y1="483.5" x2="1086.0" y2="483.5"/>
<line x1="1081.5" y1="459.5" x2="1086.0" y2="459.5"/>
<line x1="1081.5" y1="436.5" x2="1086.0" y2="436.5"/>
<line x1="1081.5" y1="412.5" x2="1086.0" y2="412.5"/>
<line x1="1081.5" y1="389.5" x2="1086.0" y2="389.5"/>
<line x1="1081.5" y1="365.5" x2="1086.0" y2="365.5"/>
<line x1="1081.5" y1="342.5" x2="1086.0" y2="342.5"/>
<line x1="1081.5" y1="318.5" x2="1086.0" y2="318.5"/>
<line x1="1081.5" y1="295.5" x2="1086.0" y2="295.5"/>
<line x1="1081.5" y1="272.5" x2="1086.0" y2="272.5"/>
<line x1="1081.5" y1="248.5" x2="1086.0" y2="248.5"/>
<line x1="1081.5" y1="225.5" x2="1086.0" y2="225.5"/>
<line x1="1081.5" y1="201.5" x2="1086.0" y2="201.5"/>
<line x1="1081.5" y1="178.5" x2="1086.0" y2="178.5"/>
<line x1="1081.5" y1="154.5" x2="1086.0" y2="154.5"/>
<line x1="1081.5" y1="131.5" x2="1086.0" y2="131.5"/>
<line x1="1081.5" y1="107.5" x2="1086.0" y2="107.5"/>
<line x1="1081.5" y1="84.5" x2="1086.0" y2="84.5"/>
<line x1="1081.5" y1="60.5" x2="1086.0" y2="60.5"/>
<line x1="1081.5" y1="37.5" x2="1086.0" y2="37.5"/>
</g>
<g>
<text x="39.5" y="570" text-anchor="middle">1</text>
<text x="91.5" y="570" text-anchor="middle">6</text>
<text x="143.5" y="570" text-anchor="middle">11</text>
<text x="196.5" y="570" text-anchor="middle">16</text>
<text x="248.5" y="570" text-anchor="middle">21</text>
<text x="301.5" y="570" text-anchor="middle">26</text>
<text x="353.5" y="570" text-anchor="middle">31</text>
<text x="405.5" y="570" text-anchor="middle">36</text>
<text x="458.5" y="570" text-anchor="middle">41</text>
<text x="510.5" y="570" text-anchor="middle">46</text>
<text x="562.5" y="570" text-anchor="middle">51</text>
<text x="615.5" y="570" text-anchor="middle">56</text>
<text x="667.5" y="570" text-anchor="middle">61</text>
<text x="720.5" y="570" text-anchor="middle">66</text>
<text x="772.5" y="570" text-anchor="middle">71</text>
<text x="824.5" y="570" text-anchor="middle">76</text>
<text x="877.5" y="570" text-anchor="middle">81</text>
<text x="929.5" y="570" text-anchor="middle">86</text>
<text x="981.5" y="570" text-anchor="middle">91</text>
<text x="1034.5" y="570" text-anchor="middle">96</text>
<text x="1076.5" y="570" text-anchor="middle">100</text>
<text x="1089.5" y="557.8">-5,000</text>
<text x="1089.5" y="534.8">-4,000</text>
<text x="1089.5" y="510.8">-3,000</text>
<text x="1089.5" y="487.8">-2,000</text>
<text x="1089.5" y="463.8">-1,000</text>
<text x="1089.5" y="440.8">0</text>
<text x="1089.5" y="416.8">1,000</text>
<text x="1089.5" y="393.8">2,000</text>
<text x="1089.5" y="369.8">3,000</text>
<text x="1089.5" y="346.8">4,000</text>
<text x="1089.5" y="322.8">5,000</text>
<text x="1089.5" y="299.8">6,000</text>
<text x="1089.5" y="276.8">7,000</text>
<text x="1089.5" y="252.8">8,000</text>
<text x="1089.5" y="229.8">9,000</text>
<text x="1089.5" y="205.8">10,000</text>
<text x="1089.5" y="182.8">11,000</text>
<text x="1089.5" y="158.8">12,000</text>
<text x="1089.5" y="135.8">13,000</text>
<text x="1089.5" y="111.8">14,000</text>
<text x="1089.5" y="88.8">15,000</text>
<text x="1089.5" y="64.8">16,000</text>
<text x="1089.5" y="41.8">17,000</text>
<text x="496" y="587.5" textLength="113.6" lengthAdjust="spacing">Tournaments Played</text>
<text transform="translate(1144,295.5) rotate(-90)" text-anchor="middle">#</text>
<text x="443.5" y="24" textLength="220" lengthAdjust="spacing">Chips Won over Tournaments Played for</text>
<text x="684.5" y="24" textLength="41.4" lengthAdjust="spacing">storo08</text>
</g>
<defs><linearGradient id="spg" x1="0" y1="0" x2="1" y2="0.4"><stop offset="0" stop-color="#f7937a"/><stop offset="0.45" stop-color="#ee1c12"/><stop offset="1" stop-color="#e00000"/></linearGradient></defs>
<g id="spade">
<path d="M674 12.9 C675.6 15.2 680.3 17.8 680.3 21 C680.3 23.9 676.8 24.5 674.8 22.7 C674.9 24.6 675.4 25.8 676.5 26.9 L671.5 26.9 C672.6 25.8 673.1 24.6 673.2 22.7 C671.2 24.5 667.7 23.9 667.7 21 C667.7 17.8 672.4 15.2 674 12.9 Z" fill="url(#spg)"/>
<path d="M672.6 15 L669.4 18.6 L668.5 21 L669.8 21.6 L671.2 18.8 L673.2 16 Z" fill="#ffffff" opacity="0.4"/>
<path d="M674 17.3 L674.7 18.9 L676.3 19 L675.1 20.1 L675.5 21.7 L674 20.9 L672.5 21.7 L672.9 20.1 L671.7 19 L673.3 18.9 Z" fill="#ffffff"/>
</g>
<g>
<rect x="23.5" y="594.5" width="668" height="31" fill="#fff" stroke="#000" stroke-width="1" shape-rendering="crispEdges"/>
<rect x="32.5" y="605.5" width="8" height="8" fill="#009900" stroke="#000" stroke-width="1" shape-rendering="crispEdges"/>
<text x="45.1" y="614" textLength="60.6" lengthAdjust="spacing">Chips Won</text>
<rect x="133.5" y="605.5" width="8" height="8" fill="#999900" stroke="#000" stroke-width="1" shape-rendering="crispEdges"/>
<text x="145.5" y="614" textLength="136.0" lengthAdjust="spacing">Net Expected Chips Won</text>
<rect x="309.5" y="605.5" width="8" height="8" fill="#000099" stroke="#000" stroke-width="1" shape-rendering="crispEdges"/>
<text x="321.9" y="614" textLength="151.8" lengthAdjust="spacing">Chips Won With Showdown</text>
<rect x="501.5" y="605.5" width="8" height="8" fill="#990000" stroke="#000" stroke-width="1" shape-rendering="crispEdges"/>
<text x="514.1" y="614" textLength="168.4" lengthAdjust="spacing">Chips Won Without Showdown</text>
</g>
</svg>
<div class="info">
<div style="top:5px;letter-spacing:-0.24px">Player: storo08</div>
<div style="top:25px;letter-spacing:-0.11px">Tournaments: 100</div>
<div style="top:45px;letter-spacing:-0.21px">My C Net Won: $20.00</div>
<div style="top:65px">My C / Tournament: $0.20</div>
<div style="top:85px;letter-spacing:-0.18px">ChipsEV/turniej: 133</div>
</div>
</body></html>
